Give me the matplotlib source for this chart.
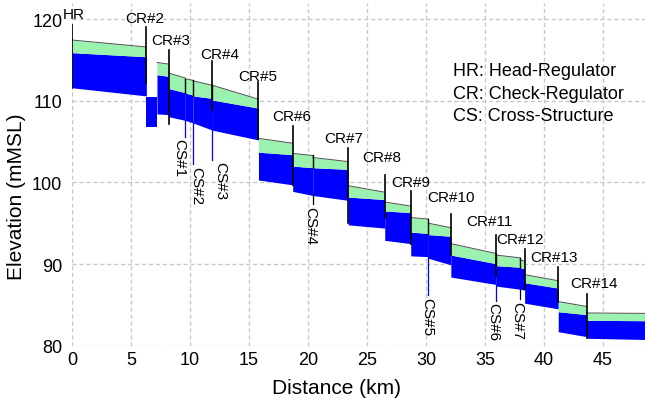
import matplotlib
matplotlib.use("Agg")
import matplotlib.pyplot as plt

plt.rcParams['font.family'] = ['Liberation Sans', 'DejaVu Sans']

# canal reaches (km) with water level, sub-level and bed (mMSL) at start / end
reach_start = [0.0, 6.3, 7.2, 8.2, 9.6, 10.25, 11.9, 15.8, 18.7, 20.4,
               23.4, 26.5, 28.7, 30.2, 32.1, 35.9, 38.0, 38.35, 41.2, 43.6]
reach_end = [6.3, 7.2, 8.2, 9.6, 10.25, 11.9, 15.8, 18.7, 20.4, 23.4,
             26.5, 28.7, 30.2, 32.1, 35.9, 38.0, 38.35, 41.2, 43.6, 48.6]
wl_start = [117.45, 110.45, 114.7, 113.4, 112.7, 112.45, 111.9, 105.4, 103.55, 103.05,
            99.6, 97.6, 95.7, 95.0, 92.5, 91.1, 90.5, 88.7, 85.4, 84.0]
wl_end = [116.6, 110.45, 114.5, 112.8, 112.5, 111.9, 110.2, 104.8, 103.3, 102.55,
          98.8, 97.1, 95.5, 94.45, 91.3, 90.75, 90.35, 87.95, 84.8, 83.95]
mid_start = [115.9, 110.45, 113.2, 111.5, 110.95, 110.6, 110.1, 103.7, 102.0, 101.8,
             98.2, 96.5, 93.9, 93.6, 91.1, 89.8, 89.5, 87.7, 84.15, 83.1]
mid_end = [115.4, 110.45, 113.0, 111.0, 110.7, 110.3, 109.1, 103.4, 101.8, 101.6,
           97.9, 96.3, 93.75, 93.4, 90.05, 89.6, 89.5, 87.05, 83.8, 83.05]
bed_start = [111.6, 106.85, 108.4, 108.05, 107.6, 107.3, 106.4, 100.3, 98.9, 98.4,
             94.8, 92.9, 91.0, 90.7, 88.4, 87.3, 86.9, 85.2, 81.7, 80.9]
bed_end = [110.6, 106.85, 108.3, 107.6, 107.3, 106.4, 105.2, 99.7, 98.4, 97.8,
           94.4, 92.5, 90.9, 89.9, 87.5, 86.9, 86.8, 84.5, 81.1, 80.75]

# regulators
cr_names = ['HR', 'CR#2', 'CR#3', 'CR#4', 'CR#5', 'CR#6', 'CR#7', 'CR#8',
            'CR#9', 'CR#10', 'CR#11', 'CR#12', 'CR#13', 'CR#14']
cr_km = [0.0, 6.3, 8.2, 11.9, 15.8, 18.7, 23.4, 26.5, 28.7, 32.1, 35.9, 38.35, 41.2, 43.6]
cr_top = [119.35, 119.0, 116.2, 114.9, 112.3, 106.9, 104.2, 100.9, 98.9, 96.1, 93.6, 91.9, 89.6, 86.3]
cr_bot = [111.6, 112.2, 107.1, 108.9, 105.3, 99.7, 95.0, 95.6, 92.5, 91.05, 88.5, 86.9, 85.4, 80.9]
cr_label_x = [0.15, 6.16, 8.37, 12.56, 15.75, 18.58, 23.06, 26.24, 28.7, 32.1, 35.39, 38.0, 40.87, 44.2]
cr_label_y = [120.1, 119.7, 117.0, 115.3, 112.5, 107.6, 105.0, 102.6, 99.5, 97.7, 94.8, 92.6, 90.4, 87.2]

# cross structures
cs_names = ['CS#1', 'CS#2', 'CS#3', 'CS#4', 'CS#5', 'CS#6', 'CS#7']
cs_km = [9.6, 10.25, 11.9, 20.4, 30.2, 35.9, 38.0]
cs_wl = [112.7, 112.5, 111.9, 103.3, 95.5, 91.2, 90.7]
cs_mid = [111.0, 110.6, 110.2, 101.8, 93.7, 89.9, 89.55]
cs_bed = [107.7, 107.3, 106.6, 98.6, 90.9, 87.4, 86.9]
cs_label_x = [9.07, 10.5, 12.6, 20.2, 30.1, 35.7, 37.75]
cs_label_top = [105.4, 102.0, 102.6, 97.1, 86.0, 85.3, 85.5]
cs_leader = ['blue', 'blue', 'blue', 'black', 'blue', 'blue', 'black']

legend_lines = ['HR: Head-Regulator', 'CR: Check-Regulator', 'CS: Cross-Structure']

fig = plt.figure(figsize=(6.45, 4.06), dpi=100)
ax = fig.add_axes([0.1116, 0.1463, 0.8884, 0.8441])

for i in range(len(reach_start)):
    xs = [reach_start[i], reach_end[i]]
    ax.fill_between(xs, [bed_start[i], bed_end[i]], [mid_start[i], mid_end[i]],
                    color='#0000ff', lw=0, zorder=2)
    if wl_start[i] > mid_start[i]:
        ax.fill_between(xs, [mid_start[i], mid_end[i]], [wl_start[i], wl_end[i]],
                        color='#9af2ae', lw=0, zorder=2)
        ax.plot(xs, [wl_start[i], wl_end[i]], color='#505050', lw=0.7, zorder=3)

for name, x, t, b, lx, ly in zip(cr_names, cr_km, cr_top, cr_bot, cr_label_x, cr_label_y):
    ax.plot([x, x], [b, t], color='black', lw=1.2, zorder=4)
    ax.text(lx, ly, name, ha='center', va='baseline', fontsize=11, zorder=5)

for i, name in enumerate(cs_names):
    x = cs_km[i]
    ax.plot([x, x], [cs_mid[i], cs_wl[i]], color='black', lw=1.0, zorder=4)
    ax.plot([x, x], [cs_label_top[i] + 0.2, cs_bed[i]], color=cs_leader[i], lw=0.9, zorder=4)
    ax.text(cs_label_x[i], cs_label_top[i], name, rotation=270, ha='center', va='top',
            fontsize=11, zorder=5)

for k, line in enumerate(legend_lines):
    ax.text(32.3, 113.15 - 2.75 * k, line, fontsize=13, va='baseline', zorder=5)

ax.set_xlim(0, 48.55)
ax.set_ylim(80, 122)
ax.set_xticks(range(0, 50, 5))
ax.set_yticks(range(80, 121, 10))
ax.grid(True, ls=(0, (3, 2)), color='#c8c8c8', lw=1)
ax.set_axisbelow(True)
for s in ax.spines.values():
    s.set_visible(False)
ax.tick_params(axis='y', length=0, labelsize=13, pad=7)
ax.tick_params(axis='x', length=0, labelsize=13, pad=4)
ax.set_xlabel('Distance (km)', fontsize=15)
ax.set_ylabel('Elevation (mMSL)', fontsize=15)
ax.xaxis.set_label_coords(0.462, -0.095)
ax.yaxis.set_label_coords(-0.08, 0.436)

fig.savefig('out.png', dpi=100)
